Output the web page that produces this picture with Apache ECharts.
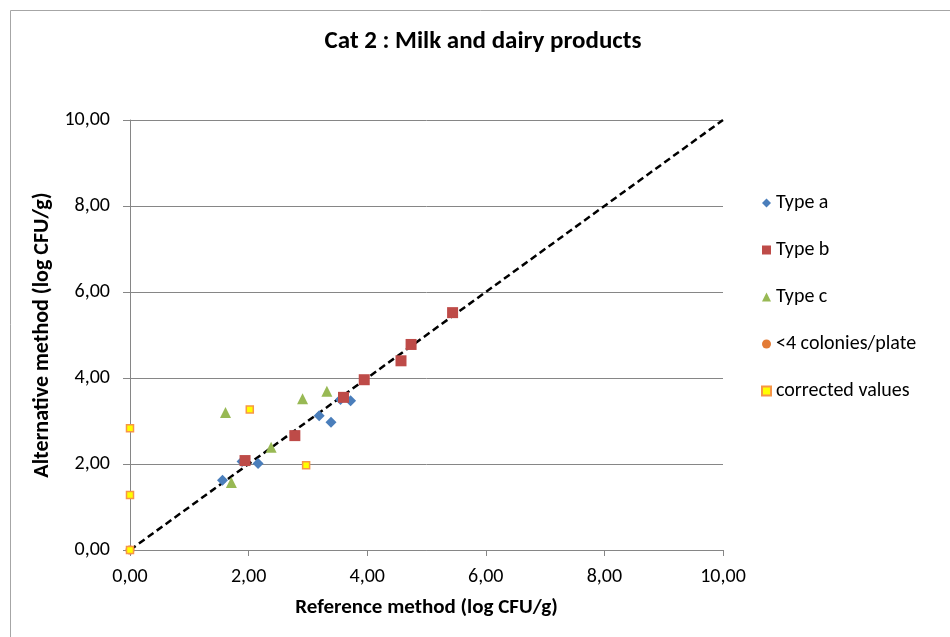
<!DOCTYPE html>
<html>
<head>
<meta charset="utf-8">
<script src="https://cdn.jsdelivr.net/npm/echarts@6/dist/echarts.min.js"></script>
<style>
  html, body { margin: 0; padding: 0; background: #fff; }
  #chart { width: 950px; height: 637px; }
</style>
</head>
<body>
<div id="chart"></div>
<script>
// values, [reference, alternative]
const typeA = [[1.56, 1.62], [1.89, 2.06], [2.16, 2.01], [3.19, 3.12], [3.39, 2.97], [3.55, 3.50], [3.72, 3.47]];
const typeB = [[1.94, 2.08], [2.78, 2.66], [3.60, 3.55], [3.95, 3.96], [4.57, 4.40], [4.74, 4.78], [5.44, 5.52]];
const typeC = [[1.61, 3.20], [1.71, 1.57], [2.38, 2.39], [2.91, 3.52], [3.32, 3.69]];
const lowColonies = [[0, 0]];
const corrected = [[0, 0], [0, 1.28], [0, 2.83], [2.02, 3.27], [2.97, 1.97]];
const diagonal = [[0, 0], [10, 10]];
const seriesNames = ["Type a", "Type b", "Type c", "<4 colonies/plate", "corrected values"];

const font = "Carlito, 'Liberation Sans Narrow', 'Noto Sans', sans-serif";
const fmt = (v) => v.toFixed(2).replace(".", ",");

const chart = echarts.init(document.getElementById("chart"));
const option = {
  animation: false,
  graphic: [
    {
      type: "rect",
      shape: { x: 10.5, y: 10.5, width: 1000, height: 700 },
      style: { fill: "none", stroke: "#a6a6a6", lineWidth: 1 },
      silent: true,
    },
  ],
  title: {
    text: "Cat 2 : Milk and dairy products",
    left: 478,
    top: 24,
    textAlign: "center",
    textStyle: { fontFamily: font, fontSize: 25, fontWeight: "bold", color: "#000" },
  },
  legend: {
    orient: "vertical",
    left: 756,
    top: 188,
    itemWidth: 9,
    itemHeight: 9,
    itemGap: 27,
    data: seriesNames,
    textStyle: { fontFamily: font, fontSize: 20, color: "#000", lineHeight: 20 },
  },
  grid: { left: 130, right: 227, top: 120, bottom: 87 },
  xAxis: {
    type: "value",
    min: 0,
    max: 10,
    interval: 2,
    name: "Reference method (log CFU/g)",
    nameLocation: "middle",
    nameGap: 47,
    nameTextStyle: { fontFamily: font, fontSize: 21, fontWeight: "bold", color: "#000" },
    axisLine: { show: true, lineStyle: { color: "#868686", width: 1 } },
    axisTick: { show: true, length: 6, lineStyle: { color: "#868686" } },
    splitLine: { show: false },
    axisLabel: { formatter: fmt, fontFamily: font, fontSize: 20, color: "#000", margin: 17 },
  },
  yAxis: {
    type: "value",
    min: 0,
    max: 10,
    interval: 2,
    name: "Alternative method (log CFU/g)",
    nameLocation: "middle",
    nameGap: 72,
    nameTextStyle: { fontFamily: font, fontSize: 22, fontWeight: "bold", color: "#000" },
    axisLine: { show: true, lineStyle: { color: "#868686", width: 1 } },
    axisTick: { show: true, length: 7, lineStyle: { color: "#868686" } },
    splitLine: { show: true, lineStyle: { color: "#868686", width: 1 } },
    axisLabel: { formatter: fmt, fontFamily: font, fontSize: 20, color: "#000", margin: 20 },
  },
  series: [
    {
      name: "diagonal",
      type: "line",
      data: diagonal,
      showSymbol: false,
      silent: true,
      lineStyle: { color: "#000", width: 2.5, type: [7, 4] },
      z: 1,
    },
    {
      name: "Type a",
      type: "scatter",
      symbol: "diamond",
      symbolSize: 11,
      itemStyle: { color: "#4a7ebb", opacity: 1 },
      data: typeA,
      z: 3,
    },
    {
      name: "Type b",
      type: "scatter",
      symbol: "rect",
      symbolSize: 11,
      itemStyle: { color: "#be4b48", opacity: 1 },
      data: typeB,
      z: 4,
    },
    {
      name: "Type c",
      type: "scatter",
      symbol: "triangle",
      symbolSize: 11,
      itemStyle: { color: "#98b954", opacity: 1 },
      data: typeC,
      z: 3,
    },
    {
      name: "<4 colonies/plate",
      type: "scatter",
      symbol: "circle",
      symbolSize: 9,
      itemStyle: { color: "#e37b35", opacity: 1 },
      data: lowColonies,
      z: 3,
    },
    {
      name: "corrected values",
      type: "scatter",
      symbol: "rect",
      symbolSize: 7,
      itemStyle: { color: "#ffff00", borderColor: "#f79646", borderWidth: 1.5, opacity: 1 },
      data: corrected,
      z: 5,
    },
  ],
};
chart.setOption(option);
</script>
</body>
</html>
